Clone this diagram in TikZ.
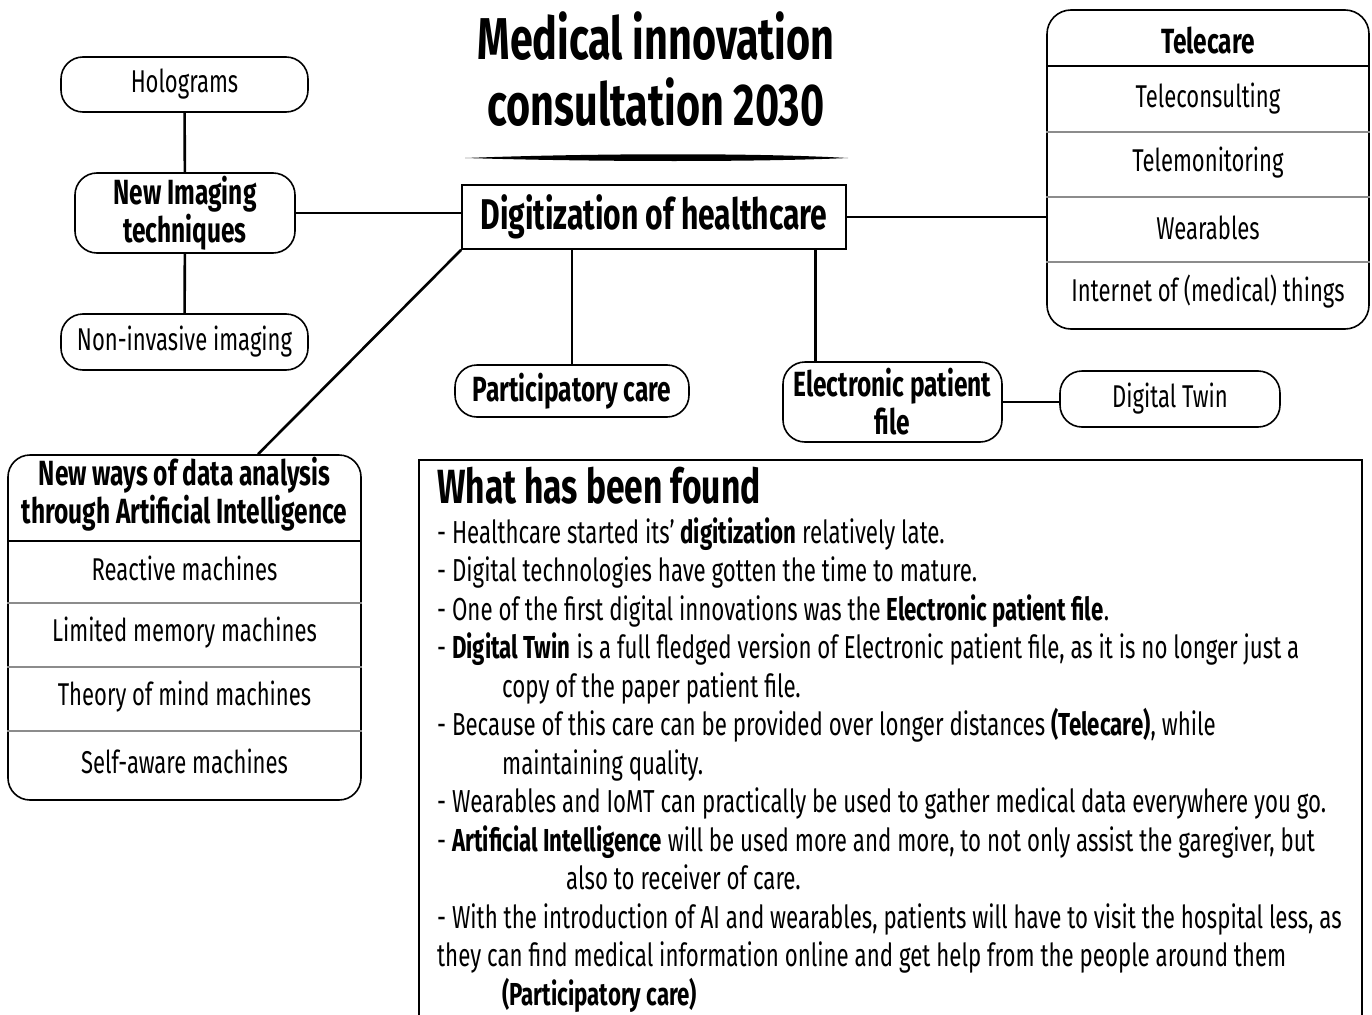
\documentclass[tikz,border=0pt]{standalone}
\usepackage{fontspec}
\setmainfont{Fira Sans}[FakeStretch=0.7]
\usetikzlibrary{positioning}

\tikzset{
  box/.style={draw, line width=1.6pt, rounded corners=22pt, align=center, inner sep=0pt},
  item/.style={font=\fontsize{31.5}{35}\selectfont},
  head/.style={font=\bfseries\fontsize{35}{38}\selectfont, align=center},
  link/.style={line width=2.6pt},
  sep/.style={line width=1.2pt, black!45},
}

\begin{document}
\begin{tikzpicture}[x=1pt,y=-1pt]
  \useasboundingbox (0,0) rectangle (1372,1014);
  % title
  \node[font=\bfseries\fontsize{59}{66}\selectfont, align=center] (title) at (656,69) {Medical innovation\\consultation 2030};
  \fill (465,158) .. controls (600,153) and (760,153) .. (848,158) .. controls (760,162) and (600,162) .. (465,158);
  \node[draw, line width=1.6pt, minimum width=384, minimum height=64, font=\bfseries\fontsize{43}{48}\selectfont] (dig) at (654,217) {Digitization of healthcare};

  % imaging
  \node[box, minimum width=247, minimum height=55, item] (holo) at (184.5,84.5) {Holograms};
  \node[box, minimum width=220, minimum height=80, head] (imag) at (185,213) {New Imaging\\techniques};
  \node[box, minimum width=247, minimum height=56, item] (nonin) at (184.5,342) {Non-invasive imaging};
  \draw[link] (holo) -- (imag);
  \draw[link] (imag) -- (nonin);
  \draw[link] (imag.east) -- (imag.east -| dig.west);

  % participatory care, patient file
  \node[box, minimum width=234, minimum height=52, head] (part) at (572,391) {Participatory care};
  \draw[link] (part.north) -- (part.north |- dig.south);
  \node[box, minimum width=219, minimum height=80, head] (epf) at (892.5,402) {Electronic patient\\file};
  \draw[link] ([xshift=-77pt]epf.north) -- ([xshift=-77pt]epf.north |- dig.south);
  \node[box, minimum width=220, minimum height=56, item] (twin) at (1170,399) {Digital Twin};
  \draw[link] (epf.east) -- (epf.east -| twin.west);

  % telecare
  \node[box, rounded corners=24pt, minimum width=322, minimum height=319] (tele) at (1208,169.5) {};
  \node[head] (telehead) at (1208,41) {Telecare};
  \draw[line width=1.6pt] (tele.west |- 0,66) -- (tele.east |- 0,66);
  \foreach \y in {132,197,262}
    \draw[sep] (tele.west |- 0,\y) -- (tele.east |- 0,\y);
  \foreach \t/\y [count=\i] in {Teleconsulting/99, Telemonitoring/163, Wearables/228, Internet of (medical) things/292}
    \node[item] (tele\i) at (1208,\y) {\t};
  \draw[link] (dig.east) -- (dig.east -| tele.west);

  % artificial intelligence
  \node[box, minimum width=353, minimum height=345] (ai) at (184.5,627.5) {};
  \node[head] (aihead) at (184.5,494) {New ways of data analysis\\through Artificial Intelligence};
  \draw[line width=1.6pt] (ai.west |- 0,541) -- (ai.east |- 0,541);
  \foreach \y in {603,667,731}
    \draw[sep] (ai.west |- 0,\y) -- (ai.east |- 0,\y);
  \foreach \t/\y [count=\i] in {Reactive machines/568, Limited memory machines/633, Theory of mind machines/697, Self-aware machines/761}
    \node[item] (ai\i) at (184.5,\y) {\t};
  \draw[link] (dig.south west) -- ([xshift=73.5pt]ai.north);

  % findings
  \draw[line width=1.6pt] (419,1020) -- (419,460) -- (1362,460) -- (1362,1020);
  \node[anchor=base west, inner sep=0pt, font=\bfseries\fontsize{48}{50}\selectfont] (found) at (437,503) {What has been found};
  \foreach \x/\t [count=\i] in {
      437/{- Healthcare started its’ \textbf{digitization} relatively late.},
      437/{- Digital technologies have gotten the time to mature.},
      437/{- One of the first digital innovations was the \textbf{Electronic patient file}.},
      437/{- \textbf{Digital Twin} is a full fledged version of Electronic patient file, as it is no longer just a},
      502/{copy of the paper patient file.},
      437/{- Because of this care can be provided over longer distances \textbf{(Telecare)}, while},
      502/{maintaining quality.},
      437/{- Wearables and IoMT can practically be used to gather medical data everywhere you go.},
      437/{- \textbf{Artificial Intelligence} will be used more and more, to not only assist the garegiver, but},
      566/{also to receiver of care.},
      437/{- With the introduction of AI and wearables, patients will have to visit the hospital less, as},
      437/{they can find medical information online and get help from the people around them},
      502/{\textbf{(Participatory care)}}}
    \node[anchor=base west, inner sep=0pt, font=\fontsize{31.8}{34}\selectfont] (line\i) at (\x,{543+38.5*(\i-1)}) {\t};
\end{tikzpicture}
\end{document}
